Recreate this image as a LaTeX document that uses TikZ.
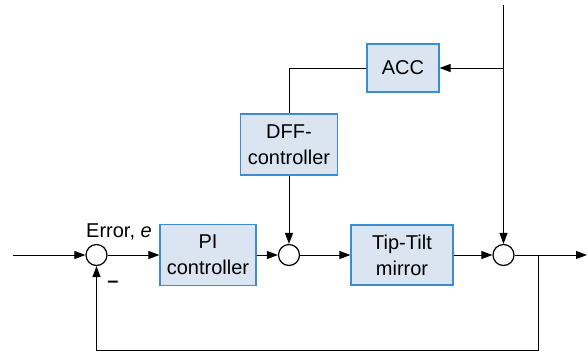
\documentclass[tikz,border=0pt]{standalone}
\usepackage{fontspec}
\setmainfont{Liberation Sans}
\usetikzlibrary{arrows.meta}
\definecolor{blkfill}{RGB}{219,228,241}
\definecolor{blkline}{RGB}{60,140,210}
\tikzset{
	blk/.style={draw=blkline,fill=blkfill,line width=1.2pt,align=center,inner sep=0pt},
	sum/.style={draw,circle,line width=1.2pt,minimum size=21pt,inner sep=0pt},
	arr/.style={-{Triangle[length=11pt,width=8pt]}}
}

\begin{document}
\begin{tikzpicture}[x=1pt,y=-1pt,line width=1pt,
	font=\fontsize{20}{26}\selectfont]
	\useasboundingbox (0,0) rectangle (588,354);
	% blocks
	\node[blk,minimum width=96pt,minimum height=61pt] (pi) at (208,255) {PI\\controller};
	\node[blk,minimum width=102pt,minimum height=60pt] (tt) at (402,255) {Tip-Tilt\\mirror};
	\node[blk,minimum width=72pt,minimum height=48pt] (acc) at (403,68) {ACC};
	\node[blk,minimum width=97pt,minimum height=61pt] (dff) at (289,144.5) {DFF-\\controller};
	% summing points
	\node[sum] (s1) at (96.5,255) {};
	\node[sum] (s2) at (289,255) {};
	\node[sum] (s3) at (503.5,255) {};
	\node (err) at (119,232) {Error, \textit{e}};
	\node (minus) at (113,284) {\textbf{--}};
	% free ends
	\coordinate (in) at (13,255);
	\coordinate (out) at (587,255);
	\coordinate (top) at (503.5,5);
	\coordinate (tap) at (503.5,68);
	\coordinate (br) at (538,255);
	\coordinate (low) at (538,350);
	% connectors
	\draw[arr] (in) -- (s1);
	\draw[arr] (s1) -- (pi);
	\draw[arr] (pi) -- (s2);
	\draw[arr] (s2) -- (tt);
	\draw[arr] (tt) -- (s3);
	\draw[arr] (s3) -- (out);
	\draw[arr] (top) -- (s3);
	\draw[arr] (tap) -- (acc);
	\draw (acc.west) -| (dff.north);
	\draw[arr] (dff) -- (s2);
	\draw[arr] (br) -- (low) -| (s1.south);
\end{tikzpicture}
\end{document}
